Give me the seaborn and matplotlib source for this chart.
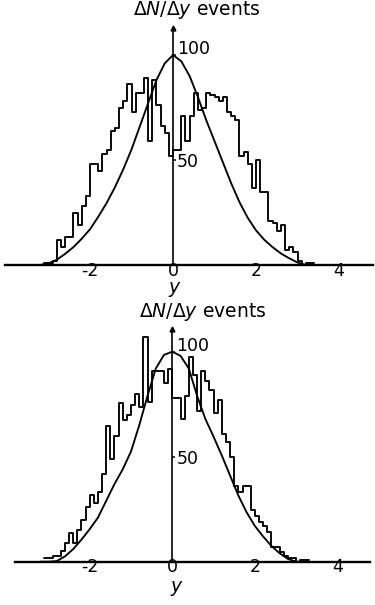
import numpy as np
import pandas as pd
import matplotlib
matplotlib.use("Agg")
import matplotlib.pyplot as plt
import matplotlib.transforms as mtransforms
import seaborn as sns

# histogram bins are 0.1 wide in y
bin_width = 0.1

# upper histogram, first bin starts at y = -3.2
top_start = -3.2
top_counts = [0, 1, 1, 2, 12, 8.7, 13.5, 13.5, 25, 19, 28, 33, 48, 48, 45, 53, 55, 64, 65, 75,
              78, 86, 73, 82, 82, 89, 59, 88, 76, 66, 63, 52, 55, 55, 71, 59, 71, 82, 74, 75,
              82, 81, 80, 78, 80, 73, 71, 69, 52, 54, 48, 36.5, 50, 35, 35, 21, 20, 16, 19, 7,
              8.7, 6, 2, 0, 1, 1]

# lower histogram, first bin starts at y = -3.1
bot_start = -3.1
bot_counts = [1.6, 1.6, 2.7, 2.7, 5, 8.8, 13.8, 8.8, 15, 20, 26, 32, 28, 33, 42, 64.6,
              48.7, 60, 75.4, 67.5, 70, 74.6, 80, 73.8, 107, 76, 91, 91, 91, 85, 92, 78,
              78, 68, 79, 97.6, 89, 72, 91, 86, 82, 71, 77, 61, 57, 50, 36, 33,
              36, 36, 24.6, 22, 19, 17, 14.3, 7, 7, 4.8, 2.7, 1.6, 1.6, 0, 1, 1]

# smooth curves read every 0.2 in y
curve_y = [-3.2, -3.0, -2.8, -2.6, -2.4, -2.2, -2.0, -1.8, -1.6, -1.4, -1.2, -1.0, -0.8,
           -0.6, -0.4, -0.2, 0.0, 0.2, 0.4, 0.6, 0.8, 1.0, 1.2, 1.4, 1.6, 1.8, 2.0, 2.2,
           2.4, 2.6, 2.8, 3.0, 3.2]
top_curve = [0, 0.8, 2.5, 5.3, 8.5, 12.5, 17, 23, 29.5, 37, 45.5, 55, 66, 77, 88, 96, 100,
             97, 90, 80, 69, 59, 49, 39, 30, 22.5, 16.5, 12, 8.5, 5.5, 3.2, 1.2, 0]
bot_curve = [0, 0, 0.3, 2.5, 6, 10.5, 15.5, 21, 29, 37, 44, 52.5, 65, 79, 92, 98.5, 100,
             98, 92, 79, 68, 59.5, 50.5, 41, 31.5, 23.5, 17, 12, 7.5, 4, 1.3, 0, 0]

x_ticks = [-2, 0, 2, 4]
x_minor = [-3, -1, 1, 3]
y_ticks = [50, 100]

sns.set_style("white")
plt.rcParams['font.family'] = ['DejaVu Sans']
plt.rcParams['axes.unicode_minus'] = False
for k in ['text.color', 'axes.labelcolor', 'xtick.color', 'ytick.color', 'axes.edgecolor']:
    plt.rcParams[k] = 'black'

W, H = 375, 605
fig = plt.figure(figsize=(W / 100, H / 100), dpi=100)

# baseline px from top, x0 px, px per unit x / y, axis span px, label positions
panels = [
    dict(start=top_start, counts=top_counts, curve=top_curve, base=265, x0=173,
         sx=41.5, sy=2.1, span=(5, 373), arrow=113, title=(0.58, 121.5), ylab=(0.05, -11.6)),
    dict(start=bot_start, counts=bot_counts, curve=bot_curve, base=561.7, x0=172.3,
         sx=41.3, sy=2.1, span=(15, 370), arrow=111, title=(0.74, 119), ylab=(0.1, -12.8)),
]

ytop = 115
for p in panels:
    h = ytop * p['sy']
    ax = fig.add_axes([0, (H - p['base']) / H, 1, h / H])

    n = len(p['counts'])
    edges = [round(p['start'] + bin_width * i, 2) for i in range(n + 1)]
    centers = [e + bin_width / 2 for e in edges[:-1]]
    df = pd.DataFrame({'y': centers, 'n': p['counts']})
    sns.histplot(data=df, x='y', weights='n', bins=edges, element='step', fill=False,
                 color='black', linewidth=1.35, ax=ax)
    cdf = pd.DataFrame({'y': curve_y, 'v': p['curve']})
    sns.lineplot(data=cdf, x='y', y='v', color='black', linewidth=1.35, ax=ax)

    ax.set_xlim(-p['x0'] / p['sx'], (W - p['x0']) / p['sx'])
    ax.set_ylim(0, ytop)
    ax.set_xlabel('')
    ax.set_ylabel('')
    for s in ['top', 'left']:
        ax.spines[s].set_visible(False)
    ax.spines['bottom'].set_bounds((p['span'][0] - p['x0']) / p['sx'],
                                   (p['span'][1] - p['x0']) / p['sx'])
    ax.spines['bottom'].set_linewidth(1.7)
    ax.spines['right'].set_position(('data', 0))
    ax.spines['right'].set_bounds(0, p['arrow'])
    ax.spines['right'].set_linewidth(1.2)
    ax.plot([0], [p['arrow']], marker='^', ms=3.5, color='black', clip_on=False)

    ax.set_xticks(x_ticks)
    ax.set_xticks(x_minor, minor=True)
    ax.tick_params(axis='x', which='both', direction='in', length=3, width=1.1,
                   pad=-2.5, labelsize=12.5)
    ax.yaxis.tick_right()
    ax.set_yticks(y_ticks)
    ax.tick_params(axis='y', direction='out', length=2, width=1.1, pad=1, labelsize=12.5)
    # the printed "100" sits a little above its tick
    lab100 = ax.get_yticklabels()[1]
    lab100.set_transform(lab100.get_transform() +
                         mtransforms.ScaledTranslation(0, 8 / 100, fig.dpi_scale_trans))

    ax.text(p['title'][0], p['title'][1], r'$\Delta N/\Delta y$ events', ha='center',
            va='center', fontsize=13.5, clip_on=False)
    ax.text(p['ylab'][0], p['ylab'][1], r'$y$', ha='center', va='center', fontsize=13.5,
            clip_on=False)

fig.savefig('out.png', dpi=100)
